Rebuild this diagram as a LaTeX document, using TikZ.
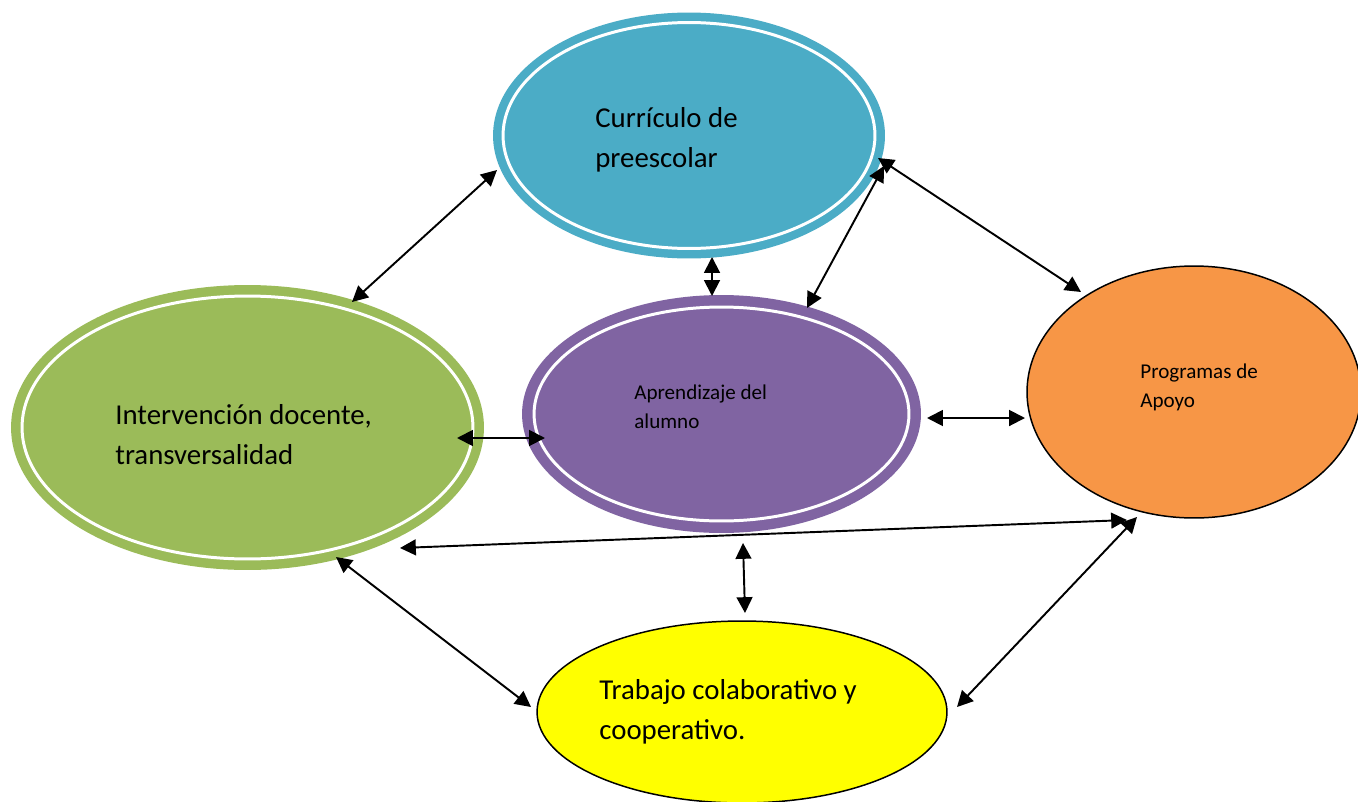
\documentclass[tikz,border=0pt]{standalone}
\usepackage{fontspec}
\setmainfont{Carlito}
\usetikzlibrary{shapes.geometric,arrows.meta}
\definecolor{cblue}{HTML}{4BACC6}
\definecolor{cgreen}{HTML}{9BBB59}
\definecolor{cpurple}{HTML}{8064A2}
\definecolor{corange}{HTML}{F79646}
\definecolor{cyellow}{HTML}{FFFF00}
\begin{document}
\begin{tikzpicture}[x=0.02cm,y=-0.02cm,
  blob/.style={ellipse, inner sep=0pt, outer sep=0pt},
  ring/.style={draw=white, line width=1.7pt},
  bigtext/.style={anchor=base west, align=left, inner sep=0pt, font=\fontsize{16.4pt}{22.7pt}\selectfont},
  smalltext/.style={anchor=base west, align=left, inner sep=0pt, font=\fontsize{12pt}{16.4pt}\selectfont},
  link/.style={{Triangle[length=9pt,width=9pt]}-{Triangle[length=9pt,width=9pt]}, line width=1.1pt, draw=black}]
\useasboundingbox (0,0) rectangle (1358,801);
\clip (0,0) rectangle (1358,801);
\fill[white] (0,0) rectangle (1358,801);

% ellipses
\node[blob, fill=cblue, minimum width=7.84cm, minimum height=4.92cm] (blue) at (689,135.5) {};
\draw[ring] (blue.center) ellipse [x radius=3.72cm, y radius=2.26cm];

\node[blob, fill=cgreen, minimum width=9.46cm, minimum height=5.7cm] (green) at (247.5,427.5) {};
\draw[ring] (green.center) ellipse [x radius=4.51cm, y radius=2.63cm];

\node[blob, fill=cpurple, minimum width=7.98cm, minimum height=4.76cm] (purple) at (721.5,414) {};
\draw[ring] (purple.center) ellipse [x radius=3.75cm, y radius=2.14cm];

\node[blob, fill=corange, draw=black, line width=0.85pt, minimum width=6.68cm, minimum height=5.04cm] (orange) at (1194,392) {};

\node[blob, fill=cyellow, draw=black, line width=0.85pt, minimum width=8.2cm, minimum height=3.64cm] (yellow) at (742,712) {};

% texts (base anchor = last line baseline)
\node[bigtext] (tblue) at (595,167) {Currículo de\\preescolar};
\node[bigtext] (tgreen) at (115,464) {Intervención docente,\\transversalidad};
\node[smalltext] (tpurple) at (634,428) {Aprendizaje del\\alumno};
\node[smalltext] (torange) at (1140,407) {Programas de\\Apoyo};
\node[bigtext] (tyellow) at (599,739) {Trabajo colaborativo y\\cooperativo.};

% connector ends
\coordinate (a1s) at (497,170);  \coordinate (a1e) at (352,302);
\coordinate (a2s) at (712,257);  \coordinate (a2e) at (712,296);
\coordinate (a3s) at (884,166);  \coordinate (a3e) at (807,308);
\coordinate (a4s) at (878,158);  \coordinate (a4e) at (1081,292);
\coordinate (a5s) at (457,438);  \coordinate (a5e) at (545,438);
\coordinate (a6s) at (927,418);  \coordinate (a6e) at (1025,418);
\coordinate (a7s) at (400,548);  \coordinate (a7e) at (1127,520);
\coordinate (a8s) at (743,543);  \coordinate (a8e) at (745,613);
\coordinate (a9s) at (336,557);  \coordinate (a9e) at (531,707);
\coordinate (a10s) at (1137,517); \coordinate (a10e) at (957,707);

\draw[link] (a1s) -- (a1e);
\draw[link] (a2s) -- (a2e);
\draw[link] (a3s) -- (a3e);
\draw[link] (a4s) -- (a4e);
\draw[link] (a5s) -- (a5e);
\draw[link] (a6s) -- (a6e);
\draw[link] (a7s) -- (a7e);
\draw[link] (a8s) -- (a8e);
\draw[link] (a9s) -- (a9e);
\draw[link] (a10s) -- (a10e);
\end{tikzpicture}
\end{document}
